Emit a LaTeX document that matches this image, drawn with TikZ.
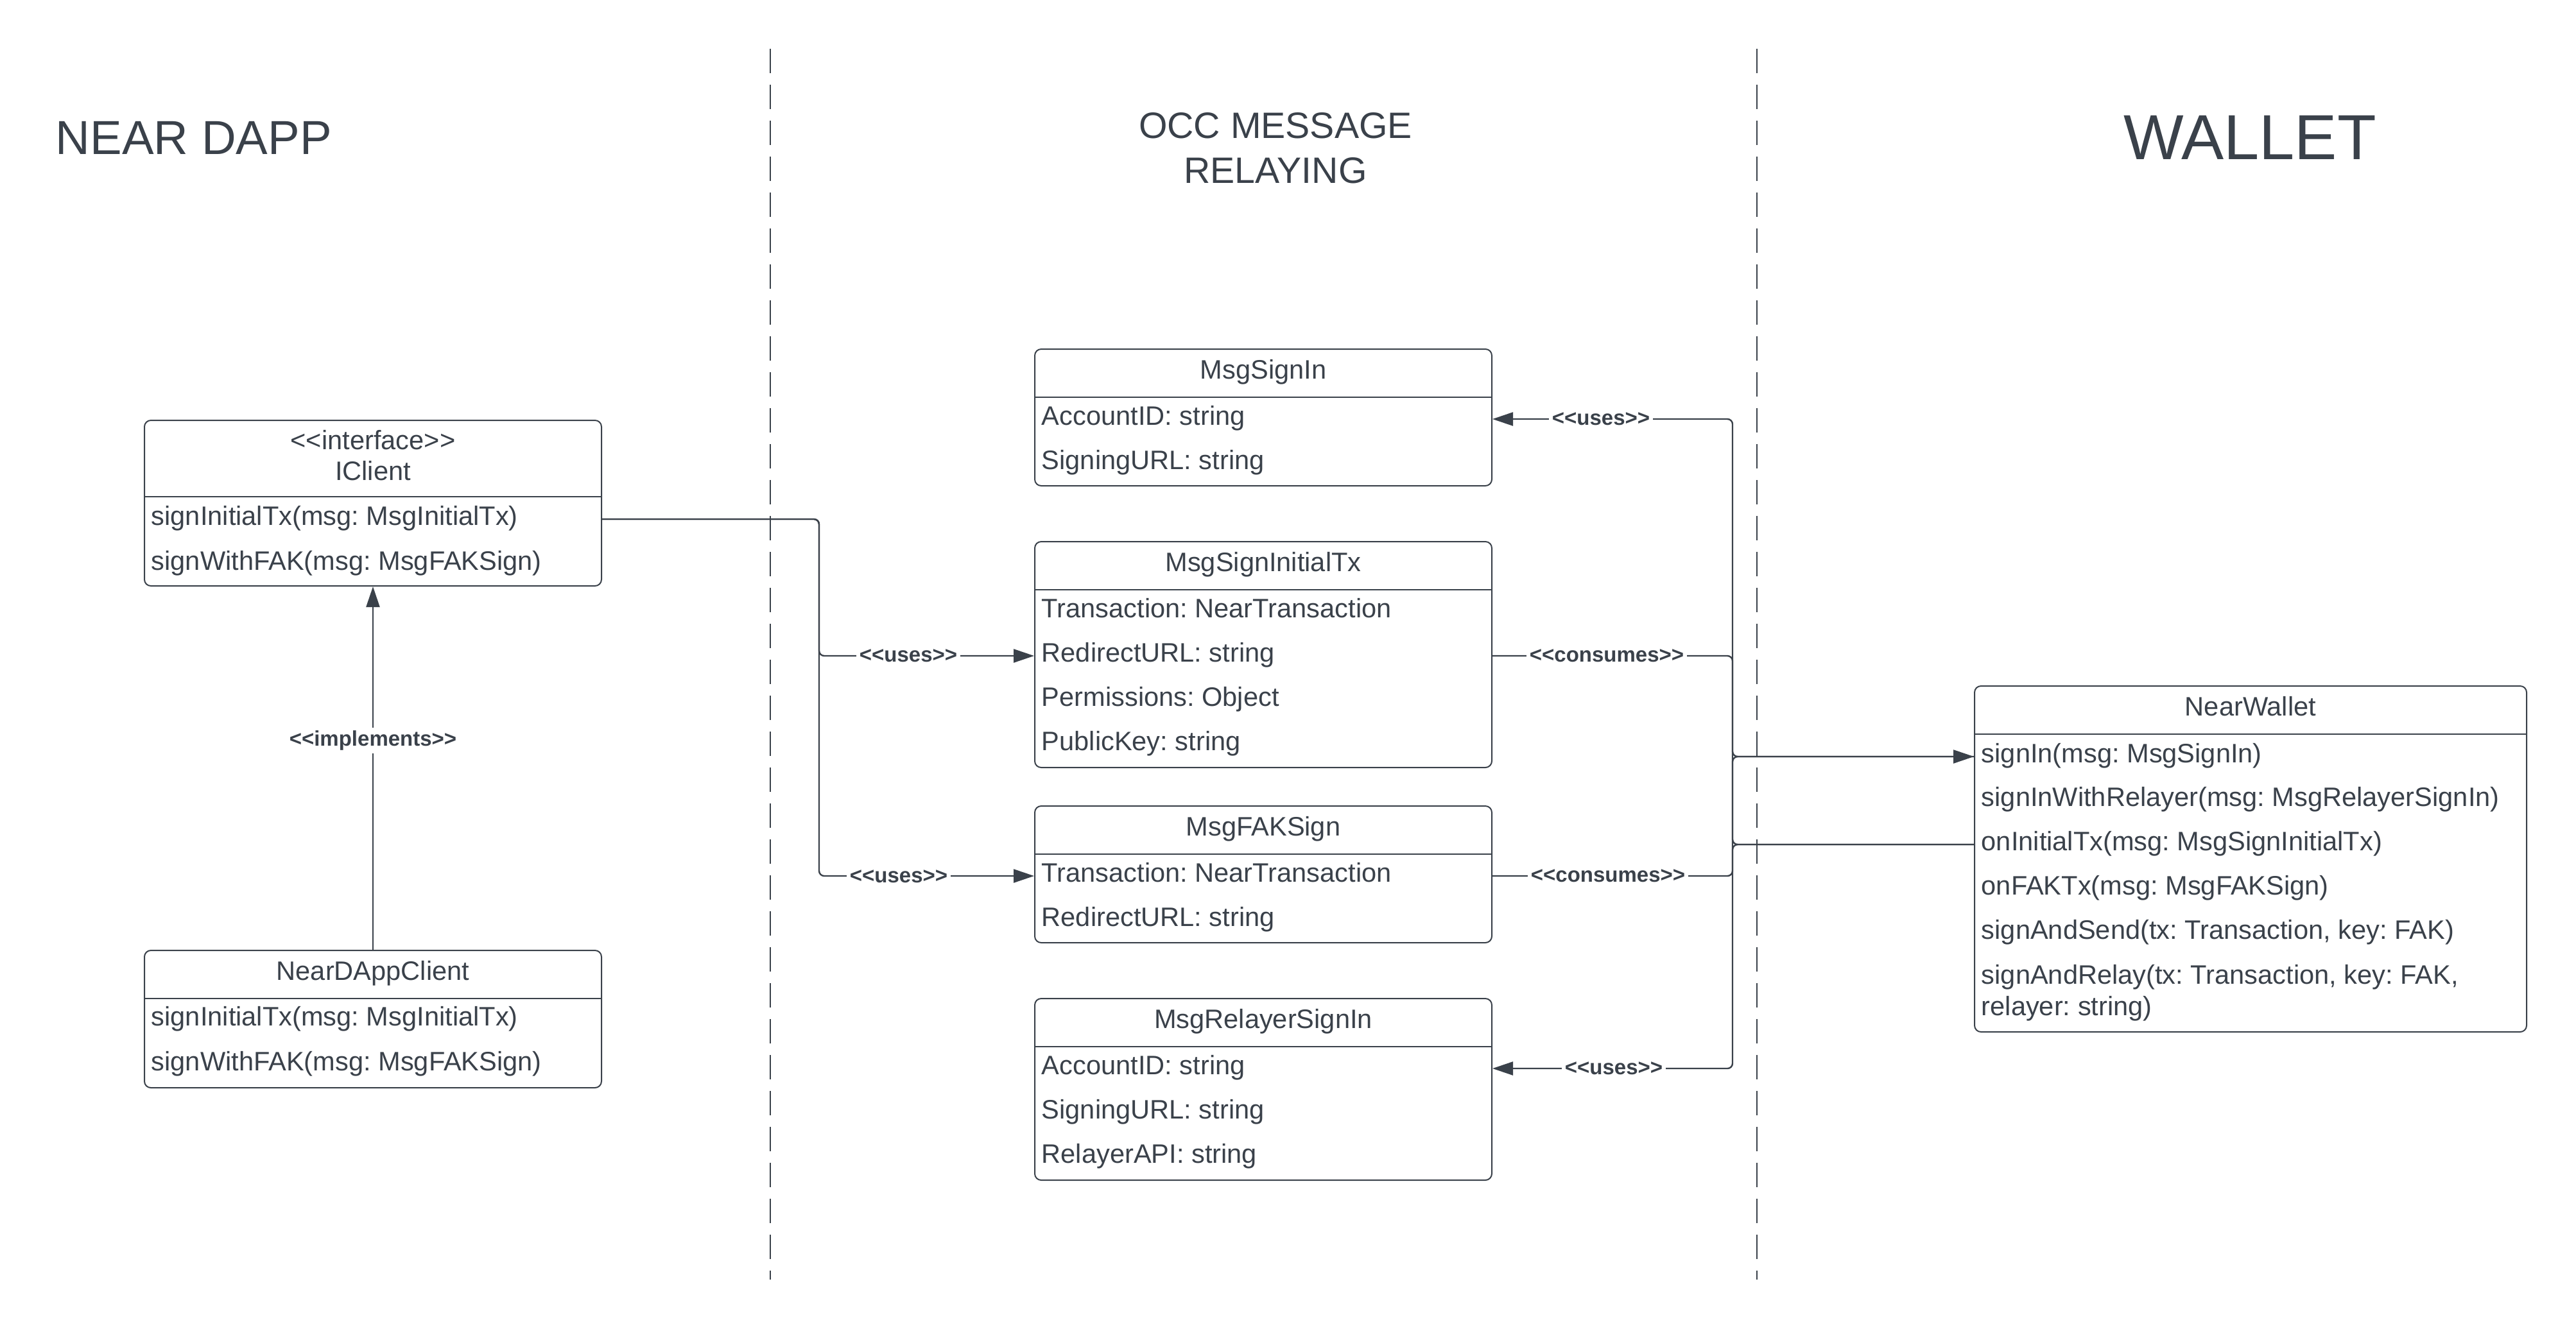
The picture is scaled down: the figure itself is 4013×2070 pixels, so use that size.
\documentclass[tikz,border=0pt]{standalone}
\usepackage{fontspec}
\setmainfont{Liberation Sans}
\usetikzlibrary{arrows.meta}
\definecolor{ink}{RGB}{58,65,74}
\newcommand\bodyfont{\fontsize{10.4pt}{12.4pt}\selectfont}
\newcommand\labfont{\fontsize{8.25pt}{10pt}\selectfont\bfseries}
\newcommand\stL{<\kern0pt<}
\newcommand\stR{>\kern0pt>}
\frenchspacing
\tikzset{
  utip/.tip={Triangle[length=8pt,width=5.25pt]},
  cb/.style={draw=ink, line width=0.5pt, rounded corners=2.5pt, inner sep=0pt, minimum width=178pt},
  dv/.style={draw=ink, line width=0.55pt},
  rowtext/.style={anchor=base west, inner sep=0pt, text height=7.5pt, text depth=3pt, font=\bodyfont, text=ink},
  ttl/.style={anchor=base, inner sep=0pt, font=\bodyfont, text=ink},
  conn/.style={draw=ink, line width=0.6pt, rounded corners=2pt},
  lab/.style={fill=white, inner sep=1.2pt, font=\labfont, text=ink},
  sepline/.style={draw=ink, line width=0.35pt, dash pattern=on 9.5pt off 4.5pt},
}
\begin{document}
\begin{tikzpicture}[x=0.25pt, y=-0.25pt]
\useasboundingbox (0,0) rectangle (4013,2070);

% lane separators
\draw[sepline] (1200,76) -- (1200,1994);
\draw[sepline] (2737,76) -- (2737,1994);

% lane titles
\node[anchor=base west, inner sep=0pt, text=ink, font=\fontsize{18.6pt}{22pt}\selectfont] (tdapp) at (86,240) {NEAR DAPP};
\node[anchor=base, inner sep=0pt, text=ink, font=\fontsize{14.3pt}{17pt}\selectfont] (tocc1) at (1987,215) {OCC MESSAGE};
\node[anchor=base, inner sep=0pt, text=ink, font=\fontsize{14.3pt}{17pt}\selectfont] (tocc2) at (1987,285) {RELAYING};
\node[anchor=base, inner sep=0pt, text=ink, font=\fontsize{24.8pt}{29pt}\selectfont] (twallet) at (3505,248) {WALLET};

% ---------- IClient ----------
\node[cb, minimum height=64.5pt] (iclient) at (581,784) {};
\draw[dv] (iclient.west |- 0,774) -- (iclient.east |- 0,774);
\node[ttl] (ict1) at (581,700) {\stL interface\stR};
\node[ttl] (ict2) at (581,748) {IClient};
\node[rowtext] (ic1) at (235,818) {signInitialTx(msg: MsgInitialTx)};
\node[rowtext] (ic2) at (235,888) {signWithFAK(msg: MsgFAKSign)};

% ---------- NearDAppClient ----------
\node[cb, minimum height=53.5pt] (ndc) at (581,1588) {};
\draw[dv] (ndc.west |- 0,1556) -- (ndc.east |- 0,1556);
\node[ttl] (ndct) at (581,1527) {NearDAppClient};
\node[rowtext] (nd1) at (235,1598) {signInitialTx(msg: MsgInitialTx)};
\node[rowtext] (nd2) at (235,1668) {signWithFAK(msg: MsgFAKSign)};

% ---------- MsgSignIn ----------
\node[cb, minimum height=53.25pt] (msi) at (1968,650.5) {};
\draw[dv] (msi.west |- 0,619) -- (msi.east |- 0,619);
\node[ttl] (msit0) at (1968,590) {MsgSignIn};
\node[rowtext] (si1) at (1622,662) {AccountID: string};
\node[rowtext] (si2) at (1622,731) {SigningURL: string};

% ---------- MsgSignInitialTx ----------
\node[cb, minimum height=88pt] (msit) at (1968,1020) {};
\draw[dv] (msit.west |- 0,919) -- (msit.east |- 0,919);
\node[ttl] (msitt) at (1968,890) {MsgSignInitialTx};
\node[rowtext] (sit1) at (1622,962) {Transaction: NearTransaction};
\node[rowtext] (sit2) at (1622,1031) {RedirectURL: string};
\node[rowtext] (sit3) at (1622,1100) {Permissions: Object};
\node[rowtext] (sit4) at (1622,1169) {PublicKey: string};

% ---------- MsgFAKSign ----------
\node[cb, minimum height=53.25pt] (mfak) at (1968,1362.5) {};
\draw[dv] (mfak.west |- 0,1331) -- (mfak.east |- 0,1331);
\node[ttl] (mfakt) at (1968,1302) {MsgFAKSign};
\node[rowtext] (fak1) at (1622,1374) {Transaction: NearTransaction};
\node[rowtext] (fak2) at (1622,1443) {RedirectURL: string};

% ---------- MsgRelayerSignIn ----------
\node[cb, minimum height=70.75pt] (mrel) at (1968,1697.5) {};
\draw[dv] (mrel.west |- 0,1631) -- (mrel.east |- 0,1631);
\node[ttl] (mrelt) at (1968,1602) {MsgRelayerSignIn};
\node[rowtext] (rel1) at (1622,1674) {AccountID: string};
\node[rowtext] (rel2) at (1622,1743) {SigningURL: string};
\node[rowtext] (rel3) at (1622,1812) {RelayerAPI: string};

% ---------- NearWallet ----------
\node[cb, minimum width=215pt, minimum height=134.75pt] (nwallet) at (3506,1338.5) {};
\draw[dv] (nwallet.west |- 0,1144) -- (nwallet.east |- 0,1144);
\node[ttl] (nwt) at (3506,1115) {NearWallet};
\node[rowtext] (nw1) at (3086,1188) {signIn(msg: MsgSignIn)};
\node[rowtext] (nw2) at (3086,1256) {signInWithRelayer(msg: MsgRelayerSignIn)};
\node[rowtext] (nw3) at (3086,1325) {onInitialTx(msg: MsgSignInitialTx)};
\node[rowtext] (nw4) at (3086,1394) {onFAKTx(msg: MsgFAKSign)};
\node[rowtext] (nw5) at (3086,1463) {signAndSend(tx: Transaction, key: FAK)};
\node[rowtext] (nw6) at (3086,1533) {signAndRelay(tx: Transaction, key: FAK,};
\node[rowtext] (nw6b) at (3086,1582) {relayer: string)};

% trunks
\coordinate (ltrunk) at (1276,0);
\coordinate (rtrunk) at (2699,0);

% ---------- connectors ----------
% implements
\draw[conn, -utip] (ndc.north) -- (iclient.south);
\node[lab] (limpl) at (581,1154) {\stL implements\stR};

% IClient uses messages
\draw[conn, -utip] (iclient.east |- ic1) -| (ltrunk |- sit2) -- (msit.west |- sit2);
\draw[conn, -utip] (iclient.east |- ic1) -| (ltrunk |- fak1) -- (mfak.west |- fak1);
\node[lab] (lu1) at (1415,1022) {\stL uses\stR};
\node[lab] (lu2) at (1400,1366) {\stL uses\stR};

% wallet side
\draw[conn, utip-utip] (msi.east |- si1) -| (rtrunk |- nw1) -- (nwallet.west |- nw1);
\draw[conn, utip-] (mrel.east |- rel1) -| (rtrunk |- nw1) -- (nwallet.west |- nw1);
\draw[conn] (msit.east |- sit2) -| (rtrunk |- nw3) -- (nwallet.west |- nw3);
\draw[conn] (mfak.east |- fak1) -| (rtrunk |- nw3) -- (nwallet.west |- nw3);
\node[lab] (lr1) at (2494,653) {\stL uses\stR};
\node[lab] (lr2) at (2503,1022) {\stL consumes\stR};
\node[lab] (lr3) at (2505,1365) {\stL consumes\stR};
\node[lab] (lr4) at (2514,1665) {\stL uses\stR};
\end{tikzpicture}
\end{document}
